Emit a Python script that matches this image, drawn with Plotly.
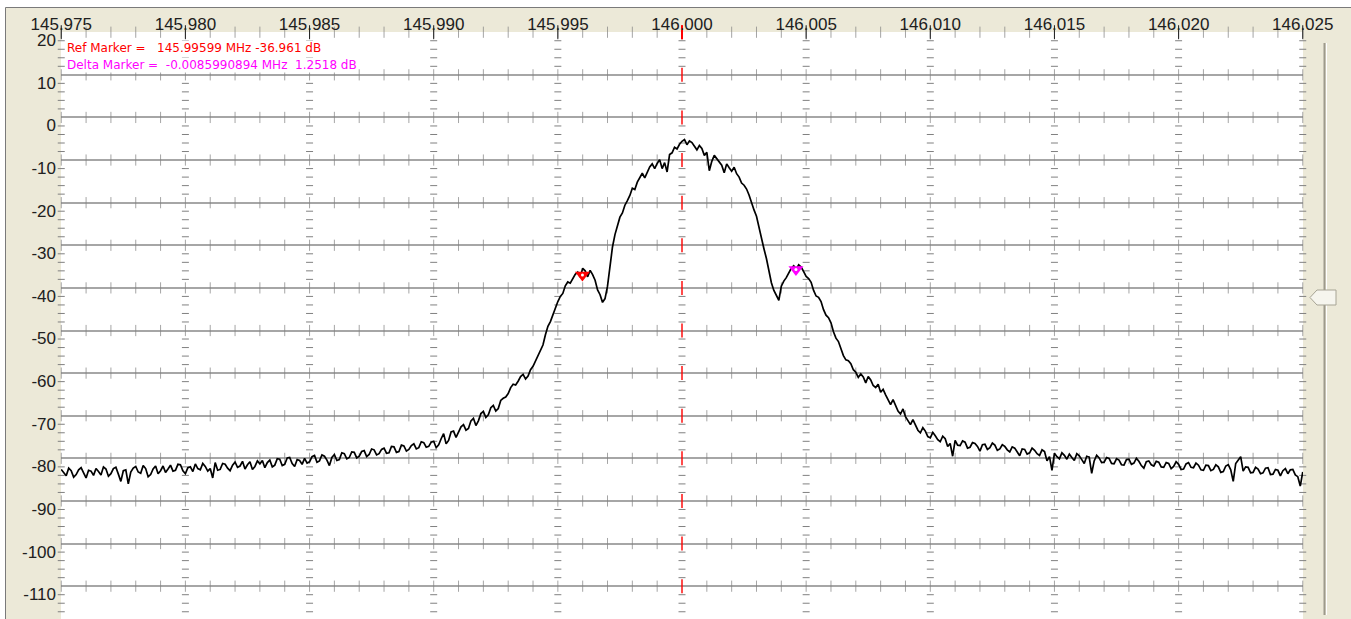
import plotly.graph_objects as go

# ---------------- data ----------------
F_START_MHZ = 145.975
F_STEP_MHZ = 0.0001

level_db = [
    -82.6, -83.5, -84.1, -82.3, -82.9, -84.4, -83.8, -82.7, -82.2, -83.4,
    -84.6, -82.8, -83.0, -84.0, -82.4, -83.1, -83.9, -82.0, -82.5, -84.2,
    -83.6, -82.4, -82.1, -83.7, -85.4, -82.9, -82.7, -86.0, -83.2, -82.3,
    -81.9, -83.2, -83.5, -81.7, -82.4, -84.3, -83.8, -82.5, -81.8, -83.6,
    -82.9, -81.8, -83.3, -82.5, -81.6, -83.0, -82.8, -81.4, -81.5, -82.9,
    -83.6, -82.2, -82.0, -83.1, -81.3, -82.4, -82.7, -81.2, -81.9, -83.0,
    -82.4, -84.6, -81.0, -82.8, -82.6, -81.2, -81.4, -82.3, -82.9, -81.6,
    -80.9, -82.1, -81.8, -80.7, -82.5, -81.5, -80.8, -82.6, -81.9, -80.6,
    -81.3, -80.5, -82.2, -81.0, -80.4, -82.0, -81.6, -80.1, -80.2, -81.7,
    -81.4, -79.9, -79.8, -81.2, -81.9, -80.3, -80.5, -81.4, -80.0, -81.1,
    -80.8, -79.6, -79.3, -80.9, -80.6, -79.2, -79.5, -80.4, -81.7, -79.8,
    -79.1, -80.5, -80.3, -78.7, -78.9, -80.1, -79.8, -78.5, -78.6, -79.9,
    -79.5, -78.4, -78.2, -79.6, -79.1, -77.8, -78.0, -79.2, -78.9, -77.9,
    -77.6, -78.8, -78.7, -77.2, -77.3, -78.6, -78.4, -76.9, -77.1, -78.3,
    -77.9, -77.0, -76.6, -77.8, -77.5, -76.1, -76.3, -77.4, -77.2, -76.2,
    -76.0, -77.5, -76.8, -75.4, -74.2, -76.6, -75.8, -73.8, -73.6, -75.1,
    -73.9, -72.6, -72.1, -73.4, -73.0, -71.2, -70.6, -72.3, -71.2, -69.5,
    -69.0, -70.4, -69.8, -68.1, -67.6, -68.9, -68.3, -66.4, -65.9, -65.6,
    -64.8, -63.4, -62.6, -62.8, -61.9, -60.8, -60.3, -61.4, -60.7, -59.2,
    -58.4, -57.2, -55.7, -54.8, -53.4, -51.0, -49.0, -47.9, -46.4, -44.5,
    -43.2, -42.0, -41.3, -39.5, -38.6, -38.9, -37.9, -36.8, -36.3, -37.5,
    -35.4, -36.0, -37.4, -35.9, -36.9, -38.2, -40.5, -41.6, -43.4, -42.5,
    -39.6, -35.0, -30.4, -27.5, -25.2, -23.4, -22.4, -20.6, -19.5, -18.3,
    -16.6, -16.9, -15.2, -14.0, -13.1, -14.2, -12.8, -11.6, -10.9, -12.0,
    -10.8, -9.9, -12.0, -10.6, -12.8, -8.7, -8.3, -7.0, -7.4, -6.3,
    -5.6, -5.2, -6.4, -5.5, -5.9, -6.8, -7.6, -6.6, -7.3, -8.9,
    -8.2, -12.5, -10.3, -8.9, -9.6, -10.4, -11.2, -13.0, -10.9, -11.8,
    -12.6, -11.7, -13.2, -14.0, -15.4, -15.9, -16.8, -18.2, -20.1, -21.7,
    -23.2, -25.9, -28.4, -30.8, -33.1, -36.0, -38.8, -40.6, -41.8, -42.9,
    -39.6, -38.4, -37.6, -36.3, -35.4, -34.8, -35.6, -34.6, -35.1, -36.2,
    -37.3, -37.8, -38.7, -40.6, -41.9, -42.2, -43.2, -45.1, -46.4, -47.0,
    -48.2, -50.3, -51.8, -52.6, -54.1, -55.9, -56.9, -57.1, -57.8, -59.2,
    -59.8, -61.0, -60.2, -60.9, -62.3, -60.8, -61.6, -62.9, -63.4, -62.6,
    -64.5, -63.8, -65.1, -66.3, -67.4, -66.2, -67.8, -68.9, -69.6, -68.4,
    -70.2, -71.3, -72.1, -70.9, -72.3, -73.4, -74.0, -72.8, -73.6, -74.9,
    -75.2, -73.9, -74.7, -75.6, -76.1, -74.8, -75.4, -77.2, -76.5, -79.5,
    -75.8, -76.9, -77.0, -75.9, -76.2, -77.6, -77.4, -76.3, -76.5, -77.2,
    -78.3, -76.8, -76.7, -77.9, -77.5, -76.4, -76.9, -78.1, -77.8, -76.8,
    -77.2, -78.0, -78.5, -77.3, -77.6, -78.4, -79.4, -77.8, -77.9, -79.0,
    -78.7, -77.6, -78.1, -78.9, -79.3, -78.0, -78.4, -80.6, -79.6, -82.8,
    -78.8, -79.6, -80.1, -78.7, -79.3, -80.2, -79.0, -79.8, -80.5, -78.9,
    -79.4, -80.3, -81.2, -79.5, -79.7, -83.5, -80.6, -79.3, -79.9, -81.0,
    -80.9, -79.8, -80.0, -81.2, -81.3, -80.1, -80.4, -81.5, -81.6, -80.3,
    -80.2, -81.4, -81.1, -80.0, -80.7, -81.7, -82.3, -80.8, -80.6, -81.5,
    -81.8, -80.7, -80.9, -82.0, -82.1, -81.0, -81.2, -82.4, -81.9, -80.8,
    -81.4, -82.6, -82.5, -81.3, -81.0, -82.1, -82.2, -81.1, -81.6, -82.7,
    -82.8, -81.6, -81.7, -82.9, -82.6, -81.5, -82.0, -83.3, -83.1, -81.8,
    -81.5, -82.7, -85.4, -81.2, -80.3, -79.6, -83.0, -82.0, -82.1, -83.4,
    -83.3, -82.1, -82.5, -83.6, -83.4, -82.3, -82.2, -83.8, -83.7, -82.6,
    -82.8, -84.1, -82.9, -82.4, -83.6, -82.7, -82.6, -83.9, -84.3, -86.5,
    -83.2,
]
freq_mhz = [round(F_START_MHZ + F_STEP_MHZ * i, 5) for i in range(len(level_db))]

x_major = [145.975, 145.980, 145.985, 145.990, 145.995, 146.000,
           146.005, 146.010, 146.015, 146.020, 146.025]
x_labels = ["145.975", "145.980", "145.985", "145.990", "145.995", "146.000",
            "146.005", "146.010", "146.015", "146.020", "146.025"]
y_major = [20, 10, 0, -10, -20, -30, -40, -50, -60, -70, -80, -90, -100, -110]
y_labels = ["20", "10", "0", "-10", "-20", "-30", "-40", "-50", "-60", "-70",
            "-80", "-90", "-100", "-110"]
x_minor_step = 0.001
y_minor_step = 2
center_mhz = 146.000

ref_marker_mhz = 145.99599
ref_marker_db = -36.961
delta_mhz = -0.0085990894
delta_db = 1.2518

ref_text = "Ref Marker =\u00a0\u00a0\u00a0145.99599 MHz -36.961 dB"
delta_text = "Delta Marker =\u00a0\u00a0-0.0085990894 MHz\u00a0\u00a01.2518 dB"

# ---------------- layout geometry ----------------
W, H = 1351, 619
ML, MR, MT, MB = 61, 48, 32, 0
PW, PH = W - ML - MR, H - MT - MB
BEIGE = "#ECE9D8"
GRID = "#A6A6A6"
TICK = "#808080"
RED = "#FF0000"


def px(xp):
    return (xp - ML) / PW


def py(yp):
    return 1 - (yp - MT) / PH


# grid decoration positions derived from the axis ticks
n_xminor = int(round((x_major[-1] - x_major[0]) / x_minor_step))
x_minor = [round(x_major[0] + k * x_minor_step, 4) for k in range(n_xminor + 1)]
vt_x, vt_y, vt_c, vt_s, vt_w = [], [], [], [], []
for yv in y_major:
    for xv in x_minor:
        is_c = abs(xv - center_mhz) < 1e-9
        vt_x.append(xv)
        vt_y.append(yv)
        vt_c.append(RED if is_c else TICK)
        vt_s.append(10 if is_c else 8)
        vt_w.append(2 if is_c else 1)
y_minor = [v for v in range(-118, 20, y_minor_step) if v % 10 != 0]
ht_x, ht_y = [], []
for xv in x_major:
    for yv in y_minor:
        ht_x.append(xv)
        ht_y.append(yv)

fig = go.Figure()

fig.add_trace(go.Scatter(
    x=ht_x, y=ht_y, mode="markers", hoverinfo="skip", cliponaxis=False,
    marker=dict(symbol="line-ew", size=5, line=dict(width=1, color=TICK)),
))
fig.add_trace(go.Scatter(
    x=vt_x, y=vt_y, mode="markers", hoverinfo="skip", cliponaxis=False,
    marker=dict(symbol="line-ns", size=vt_s, line=dict(width=vt_w, color=vt_c)),
))
# major ticks on the top edge (centre one red)
fig.add_trace(go.Scatter(
    x=x_major, y=[y_major[0]] * len(x_major), mode="markers", hoverinfo="skip",
    cliponaxis=False,
    marker=dict(symbol="line-ns", size=10,
                line=dict(width=[2 if abs(v - center_mhz) < 1e-9 else 1 for v in x_major],
                          color=[RED if abs(v - center_mhz) < 1e-9 else "#202020"
                                 for v in x_major])),
))

# spectrum trace
fig.add_trace(go.Scatter(
    x=freq_mhz, y=level_db, mode="lines",
    line=dict(color="#000000", width=1.7),
))

# markers
d_mhz = ref_marker_mhz - delta_mhz
d_db = ref_marker_db + delta_db
fig.add_trace(go.Scatter(
    x=[ref_marker_mhz, d_mhz], y=[ref_marker_db, d_db], mode="markers",
    marker=dict(symbol="triangle-down", size=13, color=[RED, "#FF00FF"],
                line=dict(width=0)),
))
fig.add_trace(go.Scatter(
    x=[ref_marker_mhz, d_mhz], y=[ref_marker_db, d_db], mode="markers",
    marker=dict(symbol="circle", size=3, color="#FFFFFF", line=dict(width=0)),
))

shapes = [
    # white outside the window frame
    dict(type="rect", xref="paper", yref="paper", x0=px(0), x1=px(W), y0=py(0), y1=py(7.5),
         fillcolor="#FFFFFF", line=dict(width=0), layer="below"),
    dict(type="rect", xref="paper", yref="paper", x0=px(0), x1=px(5), y0=py(0), y1=py(H),
         fillcolor="#FFFFFF", line=dict(width=0), layer="below"),
    dict(type="line", xref="paper", yref="paper", x0=px(5.5), x1=px(W), y0=py(7.5), y1=py(7.5),
         line=dict(color="#7A7A7A", width=1)),
    dict(type="line", xref="paper", yref="paper", x0=px(5.5), x1=px(5.5), y0=py(7.5), y1=py(H),
         line=dict(color="#7A7A7A", width=1)),
    # slider groove
    dict(type="line", xref="paper", yref="paper", x0=px(1324.5), x1=px(1324.5), y0=py(43), y1=py(615),
         line=dict(color="#9D9A8C", width=2)),
    dict(type="line", xref="paper", yref="paper", x0=px(1326.5), x1=px(1326.5), y0=py(43), y1=py(615),
         line=dict(color="#FFFFFF", width=1)),
]
thumb = [(1310, 297.5), (1317, 290), (1336, 290), (1336, 305), (1317, 305)]
path = "M " + " L ".join(f"{px(a):.6f},{py(b):.6f}" for a, b in thumb) + " Z"
shapes.append(dict(type="path", xref="paper", yref="paper", path=path,
                   fillcolor="#F6F5EE", line=dict(color="#A7A495", width=1)))

annotations = [
    dict(text=ref_text, xref="paper", yref="paper", x=px(66), y=py(48), xanchor="left",
         yanchor="middle", showarrow=False, bgcolor="#FFFFFF", borderpad=0,
         font=dict(family="DejaVu Sans", size=12, color=RED)),
    dict(text=delta_text, xref="paper", yref="paper", x=px(66), y=py(65), xanchor="left",
         yanchor="middle", showarrow=False, bgcolor="#FFFFFF", borderpad=0,
         font=dict(family="DejaVu Sans", size=12, color="#FF00FF")),
]

fig.update_layout(
    width=W, height=H, autosize=False,
    margin=dict(l=ML, r=MR, t=MT, b=MB, pad=0),
    paper_bgcolor=BEIGE, plot_bgcolor="#FFFFFF",
    showlegend=False, hovermode=False,
    shapes=shapes, annotations=annotations,
    font=dict(family="Liberation Sans", size=17, color="#202020"),
    xaxis=dict(range=[145.97499, 146.02501], side="top", tickvals=x_major, ticktext=x_labels,
               showgrid=False, zeroline=False, showline=False, ticks="",
               ticklabelstandoff=-2, tickfont=dict(size=17, color="#202020")),
    yaxis=dict(range=[-117.7, 20.05], tickvals=y_major, ticktext=y_labels,
               showgrid=True, gridcolor=GRID, gridwidth=1.5, zeroline=False, showline=False,
               ticks="", ticklabelshift=8, ticklabelstandoff=4,
               tickfont=dict(size=17, color="#202020")),
)

fig.write_html("out.html", config={"displayModeBar": False},
               post_script="document.body.style.margin='0px';")
